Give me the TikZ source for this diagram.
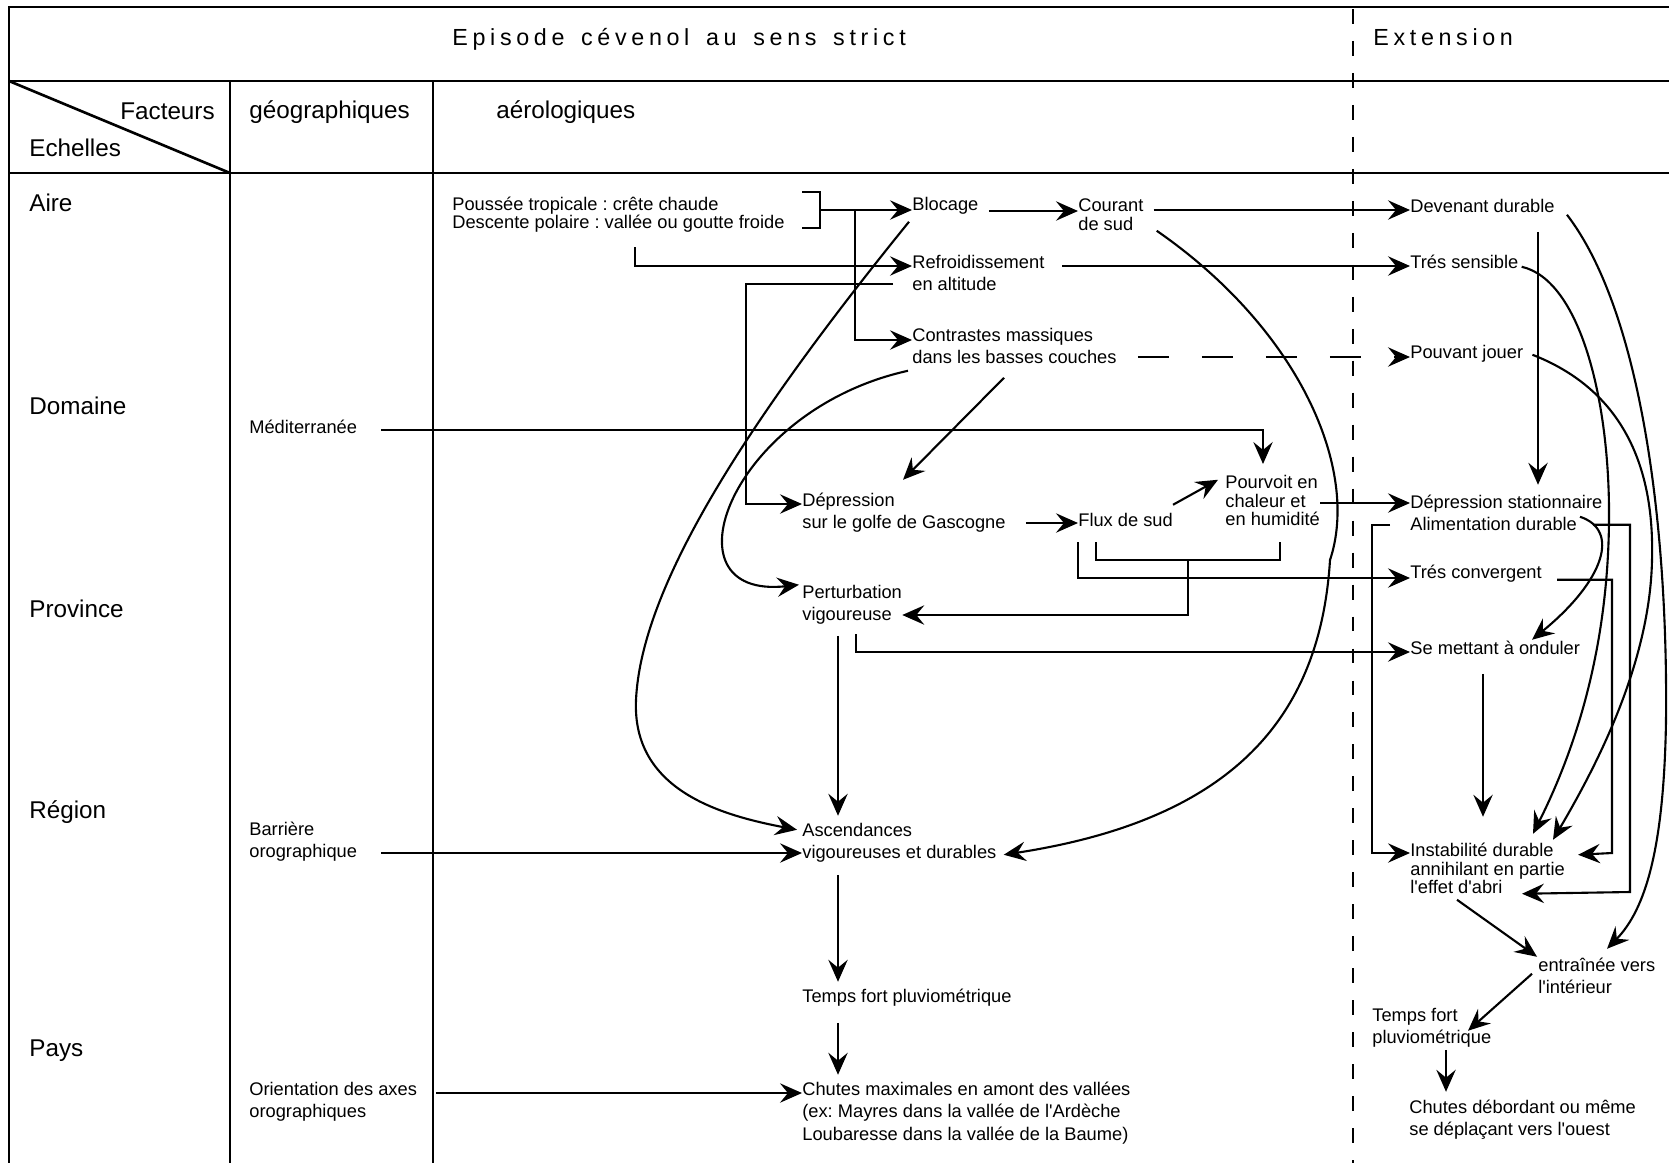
\documentclass[tikz,border=0pt]{standalone}
\usepackage{fontspec}
\setmainfont{Liberation Sans}
\newfontfamily\familletitre[LetterSpace=20]{Liberation Sans}
\newfontfamily\familletitrelarge[LetterSpace=20,WordSpace=1.5]{Liberation Sans}
\usepackage{tikz}
\usetikzlibrary{arrows.meta}
\frenchspacing

\newcommand\fontpetit{\fontsize{10.4}{12.8}\selectfont}
\newcommand\fontserre{\fontsize{10.4}{10.5}\selectfont}
\newcommand\fontgrand{\fontsize{13.8}{16}\selectfont}
\newcommand\fonttitre{\familletitre\fontsize{13.26}{16}\selectfont}
\newcommand\fonttitrelarge{\familletitrelarge\fontsize{13.26}{16}\selectfont}

\begin{document}
\begin{tikzpicture}[x=0.02cm,y=-0.02cm,
    cadre/.style={line width=1.5pt},
    trait/.style={line width=1.2pt},
    fl/.style={line width=1.2pt,-{Stealth[length=12.5pt,width=11pt,inset=4.5pt]}},
    tx/.style={anchor=west,inner sep=0pt,yshift=-1pt,align=left,font=\fontpetit},
    serre/.style={tx,font=\fontserre},
    grand/.style={anchor=west,inner sep=0pt,yshift=-1pt,font=\fontgrand},
    titre/.style={anchor=west,inner sep=0pt,font=\fonttitre}]
  \useasboundingbox (0,0) rectangle (1669,1163);

  % tableau
  \draw[cadre] (1669,7) -- (9,7) -- (9,1163);
  \draw[cadre] (9,81) -- (1669,81);
  \draw[cadre] (9,173) -- (1669,173);
  \draw[cadre] (230,81) -- (230,1163);
  \draw[cadre] (433,81) -- (433,1163);
  \draw[cadre] (9,81) -- (230,173);
  \draw[cadre,dash pattern=on 8.5pt off 9.7pt] (1353,9) -- (1353,1163);

  % en-tete
  \node[titre,font=\fonttitrelarge] (episode) at (452,39) {Episode cévenol au sens strict};
  \node[titre] (extension) at (1373,37) {Extension};
  \node[grand] (facteurs) at (120,110) {Facteurs};
  \node[grand] (echelles) at (29,146) {Echelles};
  \node[grand] (geo) at (249,110) {géographiques};
  \node[grand] (aero) at (496,110) {aérologiques};

  % echelles
  \node[grand] (aire) at (29,201) {Aire};
  \node[grand] (domaine) at (29,404) {Domaine};
  \node[grand] (province) at (29,607) {Province};
  \node[grand] (region) at (29,810) {Région};
  \node[grand] (pays) at (29,1049) {Pays};

  % facteurs geographiques
  \node[tx] (med) at (249,425) {Méditerranée};
  \node[tx] (barr) at (249,840) {Barrière\\orographique};
  \node[tx] (orient) at (249,1100) {Orientation des axes\\orographiques};

  % facteurs aerologiques
  \node[serre] (pous) at (452,213) {Poussée tropicale : crête chaude\\Descente polaire : vallée ou goutte froide};
  \node[tx] (bloc) at (912,204) {Blocage};
  \node[serre] (cour) at (1078,213) {Courant\\de sud};
  \node[tx] (refr) at (912,271) {Refroidissement\\en altitude};
  \node[tx] (cont) at (912,344) {Contrastes massiques\\dans les basses couches};
  \node[tx] (depr) at (802,511) {Dépression\\sur le golfe de Gascogne};
  \node[tx] (flux) at (1078,518) {Flux de sud};
  \node[serre] (pourv) at (1225,499) {Pourvoit en\\chaleur et\\en humidité};
  \node[tx] (pert) at (802,603) {Perturbation\\vigoureuse};
  \node[tx] (asc) at (802,841) {Ascendances\\vigoureuses et durables};
  \node[tx] (temps) at (802,996) {Temps fort pluviométrique};
  \node[tx] (chut) at (802,1111) {Chutes maximales en amont des vallées\\(ex: Mayres dans la vallée de l\textquotesingle Ardèche\\Loubaresse dans la vallée de la Baume)};

  % extension
  \node[tx] (dev) at (1410,204) {Devenant durable};
  \node[tx] (sens) at (1410,260) {Trés sensible};
  \node[tx] (pouv) at (1410,352) {Pouvant jouer};
  \node[tx] (deps) at (1410,511) {Dépression stationnaire\\Alimentation durable};
  \node[tx] (conv) at (1410,572) {Trés convergent};
  \node[tx] (ond) at (1410,646) {Se mettant à onduler};
  \node[serre] (inst) at (1410,867) {Instabilité durable\\annihilant en partie\\l\textquotesingle effet d\textquotesingle abri};
  \node[tx] (entr) at (1538,974) {entraînée vers\\l\textquotesingle intérieur};
  \node[tx] (temps2) at (1372,1026) {Temps fort\\pluviométrique};
  \node[tx] (chut2) at (1409,1118) {Chutes débordant ou même\\se déplaçant vers l\textquotesingle ouest};

  % coudes
  \coordinate (crochet) at (820,210);
  \coordinate (k1) at (855,210);
  \coordinate (k2) at (855,340);
  \coordinate (k3) at (635,247);
  \coordinate (k4) at (635,266);
  \coordinate (k5) at (893,284);
  \coordinate (k6) at (746,504);
  \coordinate (k7) at (1263,464);
  \coordinate (k8) at (1078,542);
  \coordinate (k9) at (1188,560);
  \coordinate (k10) at (1188,615);
  \coordinate (k11) at (856,634);
  \coordinate (k12) at (856,652);
  \coordinate (k13) at (1630,892);
  \coordinate (k14) at (1372,853);
  \coordinate (k15) at (1612,853);

  % liaisons episode cevenol
  \draw[trait] (802,192) -- (820,192) -- (820,228) -- (802,228);
  \draw[fl] (crochet) -- (crochet -| bloc.west);
  \draw[fl] (k1) -- (k2) -- (k2 -| cont.west);
  \draw[fl] (k3) -- (k4) -- (k4 -| refr.west);
  \draw[fl] (k5) -| (k6) -- (k6 -| depr.west);
  \draw[fl,shorten <=5.7pt] (bloc.east |- 0,211) -- (cour.west |- 0,211);
  \draw[fl,shorten <=5.7pt] (cour.east |- 0,210) -- (dev.west |- 0,210);
  \draw[fl,shorten <=10pt] (refr.east |- 0,266) -- (sens.west |- 0,266);
  \draw[fl,shorten <=12pt,dash pattern=on 17.6pt off 18.8pt] (cont.east |- 0,357) -- (pouv.west |- 0,357);
  \draw[fl] ([shift={(-3,16)}]bloc.west) .. controls (740,430) and (641,590) .. (636,700)
    .. controls (632,790) and (720,815) .. ([shift={(-5,-13)}]asc.west);
  \draw[fl] ([shift={(-4,25)}]cont.west) .. controls (730,410) and (660,600) .. ([shift={(-3,-20)}]pert.west);
  \draw[fl] ([shift={(92,32)}]cont.west) -- ([shift={(101,-33)}]depr.west);
  \draw[fl,shorten <=11.4pt] (depr.east |- 0,523) -- (flux.west |- 0,523);
  \draw[fl] ([shift={(95,-15)}]flux.west) -- ([shift={(-7,-21)}]pourv.west);
  \draw[fl] (pourv.east |- 0,503) -- (deps.west |- 0,503);
  \draw[fl,shorten <=13.6pt] (med.east |- 0,430) -| (k7);
  \draw[fl] (k8) |- (conv.west |- 0,578);
  \draw[trait] (1096,542) |- (1280,560) -- (1280,542);
  \draw[fl] (k9) -- (k10) -- (k10 -| pert.east);
  \draw[fl] (k11) -- (k12) -- (k12 -| ond.west);
  \draw[fl] ([shift={(36,31)}]pert.west) -- ([shift={(36,-27)}]asc.west);
  \draw[fl,shorten <=13.6pt] (barr.east |- 0,853) -- (asc.west |- 0,853);
  \draw[fl] ([shift={(36,32)}]asc.west) -- ([shift={(36,-16)}]temps.west);
  \draw[fl] ([shift={(36,25)}]temps.west) -- ([shift={(36,-38)}]chut.west);
  \draw[fl,shorten <=10.8pt] (orient.east |- 0,1093) -- (chut.west |- 0,1093);
  \draw[fl] ([shift={(13,16)}]cour.east) .. controls (1300,330) and (1360,470) .. (1330,560)
    .. controls (1320,720) and (1230,820) .. ([shift={(7,12)}]asc.east);

  % liaisons extension
  \draw[fl] ([shift={(128,26)}]dev.west) -- ([shift={(128,-28)}]deps.west);
  \draw[fl] ([shift={(12,9)}]dev.east) .. controls (1640,310) and (1668,520) .. (1666,720)
    .. controls (1664,850) and (1645,910) .. ([shift={(69,-27)}]entr.west);
  \draw[fl] ([shift={(3,5)}]sens.east) .. controls (1580,280) and (1610,400) .. (1609,520)
    .. controls (1608,650) and (1575,750) .. ([shift={(123,-35)}]inst.west);
  \draw[fl] ([shift={(9,1)}]pouv.east) .. controls (1610,385) and (1655,450) .. (1652,560)
    .. controls (1650,660) and (1600,760) .. ([shift={(143,-29)}]inst.west);
  \draw[fl] ([shift={(170,4)}]deps.west) .. controls (1620,530) and (1605,580) .. ([shift={(122,-8)}]ond.west);
  \draw[fl] ([shift={(183,12)}]deps.west) -| (k13) -- ([shift={(112,25)}]inst.west);
  \draw[fl] ([shift={(-20,12)}]deps.west) -| (k14) -- (k14 -| inst.west);
  \draw[fl] ([shift={(147,6)}]conv.west) -| (k15) -- ([shift={(168,-14)}]inst.west);
  \draw[fl] ([shift={(73,26)}]ond.west) -- ([shift={(73,-52)}]inst.west);
  \draw[fl] ([shift={(47,31)}]inst.west) -- ([shift={(-1,-19)}]entr.west);
  \draw[fl] ([shift={(-6,-2)}]entr.west) -- ([shift={(96,3)}]temps2.west);
  \draw[fl] ([shift={(74,22)}]temps2.west) -- ([shift={(37,-28)}]chut2.west);
\end{tikzpicture}
\end{document}
